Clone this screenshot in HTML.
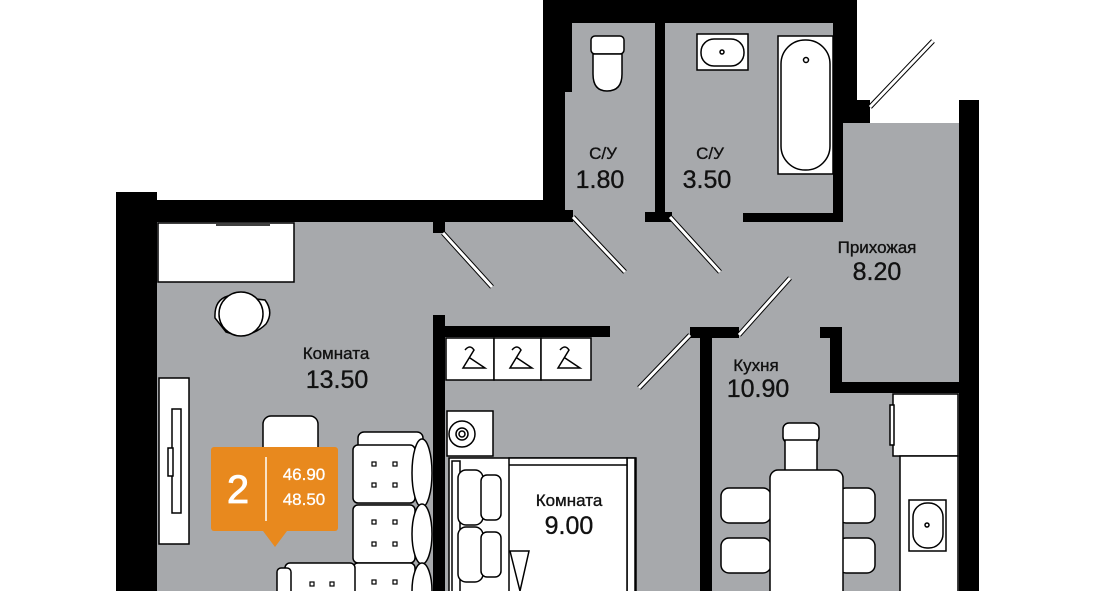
<!DOCTYPE html>
<html><head><meta charset="utf-8"><style>
html,body{margin:0;padding:0;background:#fff;}
svg{display:block;}
text{font-family:"Liberation Sans",sans-serif;fill:#111;text-anchor:middle;stroke:#111;stroke-width:0.35;}
.l{font-size:17px;}
.n{font-size:25px;}
</style></head><body>
<svg width="1096" height="591" viewBox="0 0 1096 591" xmlns="http://www.w3.org/2000/svg">
<polygon points="116,200 543,200 543,0 857,0 857,123 979,123 979,591 116,591" fill="#a7a9ac"/>
<g fill="#000">
<rect x="116" y="192" width="41" height="399"/>
<rect x="116" y="200" width="449" height="22"/>
<rect x="543" y="0" width="22" height="222"/>
<rect x="543" y="0" width="29" height="92"/>
<rect x="543" y="0" width="314" height="23"/>
<rect x="833" y="0" width="24" height="123"/>
<rect x="833" y="100" width="37" height="23"/>
<rect x="959" y="100" width="20" height="491"/>
<rect x="540" y="210" width="33" height="12"/>
<rect x="655" y="0" width="10" height="222"/>
<rect x="645" y="212" width="27" height="10"/>
<rect x="743" y="213" width="100" height="9"/>
<rect x="833" y="100" width="10" height="122"/>
<rect x="433" y="218" width="12" height="15"/>
<rect x="433" y="315" width="12" height="276"/>
<rect x="433" y="326" width="177" height="11"/>
<rect x="690" y="327" width="49" height="11"/>
<rect x="700" y="327" width="12" height="264"/>
<rect x="820" y="327" width="22" height="11"/>
<rect x="830" y="327" width="12" height="66"/>
<rect x="830" y="382" width="130" height="11"/>
</g>
<g stroke="#000" stroke-width="5" stroke-linecap="butt">
<line x1="443" y1="233" x2="492" y2="287"/>
<line x1="573" y1="217" x2="625" y2="272"/>
<line x1="670" y1="217" x2="720" y2="272"/>
<line x1="739" y1="335" x2="790" y2="278"/>
<line x1="690" y1="335" x2="639" y2="388"/>
<line x1="870" y1="107" x2="933" y2="41"/>
</g>
<g stroke="#fff" stroke-width="3">
<line x1="443" y1="233" x2="492" y2="287"/>
<line x1="573" y1="217" x2="625" y2="272"/>
<line x1="670" y1="217" x2="720" y2="272"/>
<line x1="739" y1="335" x2="790" y2="278"/>
<line x1="690" y1="335" x2="639" y2="388"/>
<line x1="870" y1="107" x2="933" y2="41"/>
</g>
<g fill="#fff" stroke="#000" stroke-width="1.5">
<rect x="591" y="36" width="33" height="18" rx="4"/>
<path d="M593,54 L622,54 L622,74 Q622,91 607,91 Q593,91 593,74 Z"/>
<rect x="697" y="34" width="51" height="36"/>
<rect x="701" y="39" width="43" height="27" rx="13"/>
<circle cx="722" cy="52" r="2"/>
<rect x="778" y="36" width="55" height="138"/>
<rect x="781" y="40" width="49" height="130" rx="24"/>
<circle cx="806" cy="60" r="2.5"/>
<rect x="158" y="223" width="136" height="59"/>
<line x1="216" y1="225" x2="270" y2="225"/>
<path d="M215,318 Q214,300 228,296 L265,300 Q274,312 266,324 Q250,340 226,332 Z"/>
<circle cx="241" cy="314" r="22"/>
<rect x="159" y="378" width="30" height="166"/>
<rect x="172" y="409" width="9" height="104"/>
<rect x="168" y="448" width="5" height="28"/>
<rect x="263" y="416" width="55" height="40" rx="8"/>
<rect x="358" y="432" width="65" height="22" rx="6"/>
<rect x="353" y="445" width="62" height="58" rx="5"/>
<rect x="353" y="505" width="62" height="58" rx="5"/>
<rect x="353" y="563" width="62" height="40" rx="5"/>
<rect x="285" y="563" width="70" height="40" rx="5"/>
<rect x="277" y="568" width="14" height="30" rx="4"/>
<ellipse cx="422" cy="473" rx="10" ry="34"/>
<ellipse cx="422" cy="534" rx="10" ry="30"/>
<ellipse cx="422" cy="591" rx="10" ry="28"/>
<rect x="446" y="338" width="48" height="42"/>
<rect x="494" y="338" width="47" height="42"/>
<rect x="541" y="338" width="50" height="42"/>
<rect x="447" y="411" width="46" height="45"/>
<circle cx="462" cy="434" r="13"/>
<circle cx="462" cy="434" r="6"/>
<circle cx="462" cy="434" r="3"/>
<rect x="449" y="458" width="187" height="140"/>
<rect x="452" y="461" width="8" height="135"/>
<rect x="627" y="458" width="8" height="135"/>
<rect x="509" y="458" width="118" height="140"/>
<line x1="509" y1="465" x2="627" y2="465"/>
<rect x="458" y="470" width="25" height="55" rx="8"/>
<rect x="481" y="475" width="20" height="45" rx="6"/>
<rect x="458" y="527" width="25" height="55" rx="8"/>
<rect x="481" y="532" width="20" height="45" rx="6"/>
<polygon points="510,551 529,551 520,591"/>
<rect x="893" y="394" width="65" height="62"/>
<rect x="890" y="405" width="4" height="40"/>
<rect x="900" y="456" width="58" height="140"/>
<rect x="909" y="500" width="37" height="51"/>
<rect x="913" y="503" width="30" height="45" rx="14"/>
<circle cx="927" cy="525" r="2"/>
<rect x="783" y="423" width="36" height="20" rx="6"/>
<rect x="785" y="440" width="32" height="32"/>
<rect x="721" y="488" width="50" height="35" rx="8"/>
<rect x="721" y="538" width="50" height="35" rx="8"/>
<rect x="838" y="488" width="37" height="35" rx="8"/>
<rect x="838" y="538" width="37" height="35" rx="8"/>
<rect x="770" y="470" width="73" height="130" rx="8"/>
</g>
<g fill="none" stroke="#000" stroke-width="1.5">
<path d="M465,350 Q470,344 474,350 L463,368 L485,368 L470,358"/>
<path d="M512,350 Q517,344 521,350 L510,368 L532,368 L517,358"/>
<path d="M560,350 Q565,344 569,350 L558,368 L580,368 L565,358"/>
</g>
<g fill="none" stroke="#000" stroke-width="1.2">
<rect x="372" y="462" width="4" height="4"/><rect x="393" y="462" width="4" height="4"/>
<rect x="372" y="483" width="4" height="4"/><rect x="393" y="483" width="4" height="4"/>
<rect x="372" y="520" width="4" height="4"/><rect x="393" y="520" width="4" height="4"/>
<rect x="372" y="542" width="4" height="4"/><rect x="393" y="542" width="4" height="4"/>
<rect x="372" y="580" width="4" height="4"/><rect x="393" y="580" width="4" height="4"/>
<rect x="310" y="582" width="4" height="4"/><rect x="330" y="582" width="4" height="4"/>
</g>
<rect x="211" y="447" width="127" height="84" rx="3" fill="#e8891e"/>
<polygon points="263,531 287,531 275,547" fill="#e8891e"/>
<line x1="266" y1="457" x2="266" y2="521" stroke="#fff" stroke-width="1.5"/>
<text x="238" y="503" style="font-size:40px;fill:#fff;stroke:#fff;stroke-width:0.8">2</text>
<text x="304" y="480" style="font-size:17px;fill:#fff;stroke:#fff;stroke-width:0.3">46.90</text>
<text x="304" y="505" style="font-size:17px;fill:#fff;stroke:#fff;stroke-width:0.3">48.50</text>
<text class="l" x="603" y="159">С/У</text>
<text class="n" x="600" y="188">1.80</text>
<text class="l" x="710" y="159">С/У</text>
<text class="n" x="707" y="188">3.50</text>
<text class="l" x="877" y="253">Прихожая</text>
<text class="n" x="877" y="280">8.20</text>
<text class="l" x="756" y="371">Кухня</text>
<text class="n" x="758" y="397">10.90</text>
<text class="l" x="336" y="359">Комната</text>
<text class="n" x="337" y="388">13.50</text>
<text class="l" x="569" y="506">Комната</text>
<text class="n" x="569" y="534">9.00</text>
</svg>
</body></html>
